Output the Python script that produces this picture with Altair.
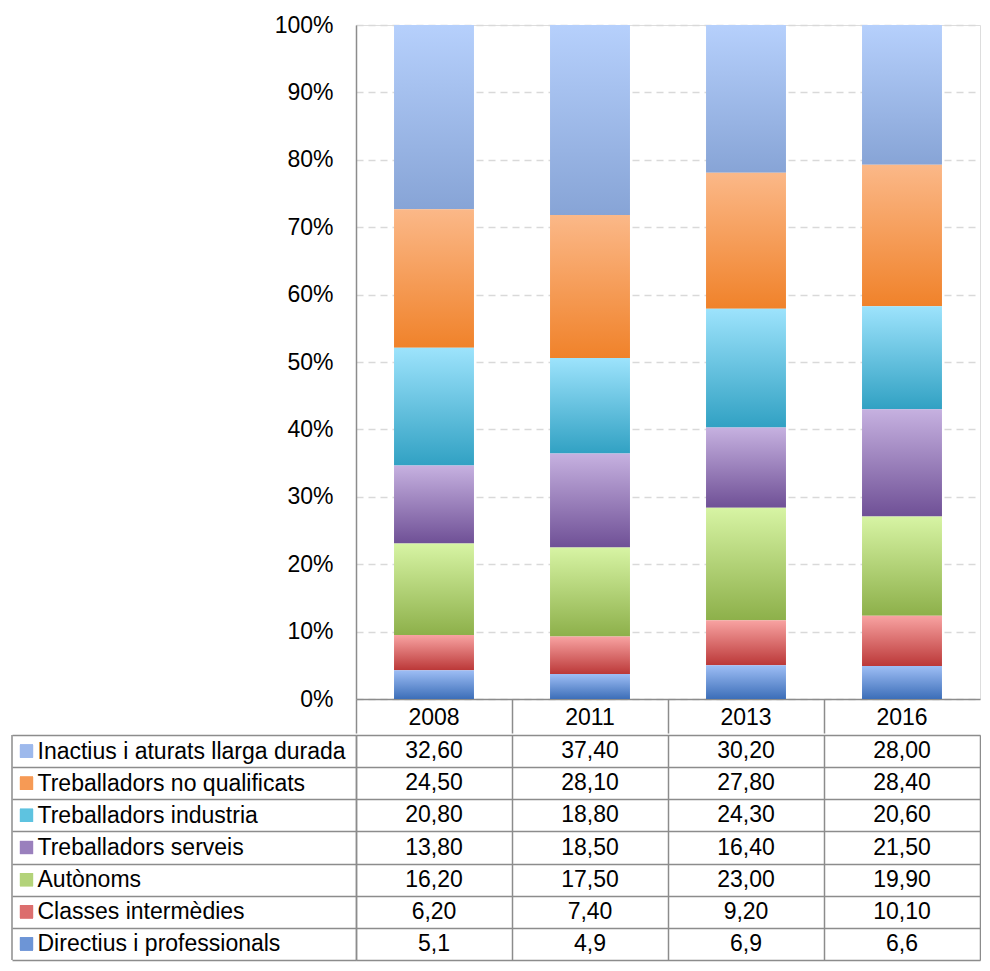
import altair as alt
import pandas as pd

years = ["2008", "2011", "2013", "2016"]
series = [
    "Inactius i aturats llarga durada",
    "Treballadors no qualificats",
    "Treballadors industria",
    "Treballadors serveis",
    "Autònoms",
    "Classes intermèdies",
    "Directius i professionals",
]
inactius = [32.60, 37.40, 30.20, 28.00]
no_qualificats = [24.50, 28.10, 27.80, 28.40]
industria = [20.80, 18.80, 24.30, 20.60]
serveis = [13.80, 18.50, 16.40, 21.50]
autonoms = [16.20, 17.50, 23.00, 19.90]
intermedies = [6.20, 7.40, 9.20, 10.10]
directius = [5.1, 4.9, 6.9, 6.6]
decimals = [2, 2, 2, 2, 2, 2, 1]

grad_top = ["#b6d0fc", "#fbb888", "#9de3fc", "#c6b1e0", "#d7f4a4", "#f8a3a2", "#9ebef5"]
grad_bottom = ["#87a4d6", "#f0822a", "#31a1c3", "#6f5096", "#8db04a", "#bb3838", "#3c6eb8"]
swatch = ["#9db9ec", "#f69a55", "#5ec3e0", "#9a80bd", "#b3d37a", "#dc6e6e", "#6d95d6"]

LINE = "#8c8c8c"
FONT = "Liberation Sans"
FS = 23

values_by_series = [inactius, no_qualificats, industria, serveis, autonoms, intermedies, directius]
rows = []
for i, (s, vals) in enumerate(zip(series, values_by_series)):
    for y, v in zip(years, vals):
        rows.append({
            "series": s,
            "year": y,
            "value": v,
            "order": len(series) - 1 - i,
            "label": f"{v:.{decimals[i]}f}".replace(".", ","),
        })
df = pd.DataFrame(rows)

PLOT_W = 624
PLOT_H = 674
TAB_H = 225

# ---------- top: 100% stacked bars ----------
x_top = alt.X(
    "year:N", sort=years,
    scale=alt.Scale(domain=years, paddingInner=0, paddingOuter=0),
    axis=alt.Axis(
        title=None, orient="bottom", labelAngle=0, grid=False,
        bandPosition=0, ticks=True, tickSize=34, tickColor=LINE, tickWidth=1.5,
        domainColor=LINE, domainWidth=1.5,
        labelBaseline="middle", labelPadding=-16,
        labelFont=FONT, labelFontSize=FS, labelColor="black",
        minExtent=34, maxExtent=34,
    ),
)
y_top = alt.Y(
    "y0:Q",
    scale=alt.Scale(domain=[0, 1], nice=False, zero=True),
    axis=alt.Axis(
        title=None, format=".0%", values=[round(i * 0.1, 1) for i in range(11)],
        ticks=False, labelPadding=23, domainColor=LINE, domainWidth=1.5,
        grid=True, gridColor="#d9d9d9", gridDash=[7, 5], gridWidth=1.5,
        labelFont=FONT, labelFontSize=FS, labelColor="black",
    ),
)

base = alt.Chart(df).transform_stack(
    stack="value", groupby=["year"], as_=["y0", "y1"], offset="normalize",
    sort=[alt.SortField("order", order="ascending")],
)

bar_layers = []
for i, s in enumerate(series):
    grad = alt.LinearGradient(
        gradient="linear",
        stops=[alt.GradientStop(color=grad_top[i], offset=0),
               alt.GradientStop(color=grad_bottom[i], offset=1)],
        x1=0, x2=0, y1=0, y2=1,
    )
    bar_layers.append(
        base.transform_filter(alt.datum.series == s)
        .mark_bar(width=alt.RelativeBandSize(band=0.5125), color=grad, strokeWidth=0)
        .encode(x=x_top, y=y_top, y2="y1:Q")
    )

top = alt.layer(*bar_layers).properties(width=PLOT_W, height=PLOT_H)

# ---------- bottom: data table ----------
x_tab = alt.X(
    "year:N", sort=years,
    scale=alt.Scale(domain=years, paddingInner=0, paddingOuter=0),
    axis=alt.Axis(
        title=None, labels=False, ticks=False, domain=False,
        grid=True, tickBand="extent", gridColor=LINE, gridWidth=1.5,
    ),
)
y_tab = alt.Y(
    "series:N", sort=series,
    scale=alt.Scale(domain=series, paddingInner=0, paddingOuter=0),
    axis=alt.Axis(
        title=None, tickBand="extent", ticks=True, tickSize=344, tickColor=LINE, tickWidth=1.5,
        domain=True, domainColor=LINE, domainWidth=1.5,
        grid=True, gridColor=LINE, gridWidth=1.5,
        labelAlign="left", labelBaseline="middle", labelPadding=-25, labelLimit=500,
        labelFont=FONT, labelFontSize=FS, labelColor="black", labelOverlap=False,
    ),
)

tab_text = alt.Chart(df).mark_text(font=FONT, fontSize=FS, color="black", align="center",
                                   baseline="middle").encode(x=x_tab, y=y_tab, text="label:N")

squares = alt.Chart(df).mark_square(size=172, opacity=1, filled=True).encode(
    x=alt.value(-329.5),
    y=y_tab,
    color=alt.Color("series:N", scale=alt.Scale(domain=series, range=swatch), legend=None),
)

left_border = alt.Chart(pd.DataFrame({"k": [0]})).mark_rule(color=LINE, strokeWidth=1.5).encode(
    x=alt.value(-344), y=alt.value(0), y2=alt.value(TAB_H)
)

table = alt.layer(tab_text, squares, left_border).properties(width=PLOT_W, height=TAB_H)

chart = (
    alt.vconcat(top, table, spacing=-17)
    .resolve_scale(x="independent", y="independent", color="independent")
    .properties(padding={"left": 2, "top": 5, "right": 0, "bottom": 0})
    .configure_view(stroke=None)
    .configure(font=FONT)
)

chart.save("out.html", embed_options={"renderer": "svg", "actions": False})
